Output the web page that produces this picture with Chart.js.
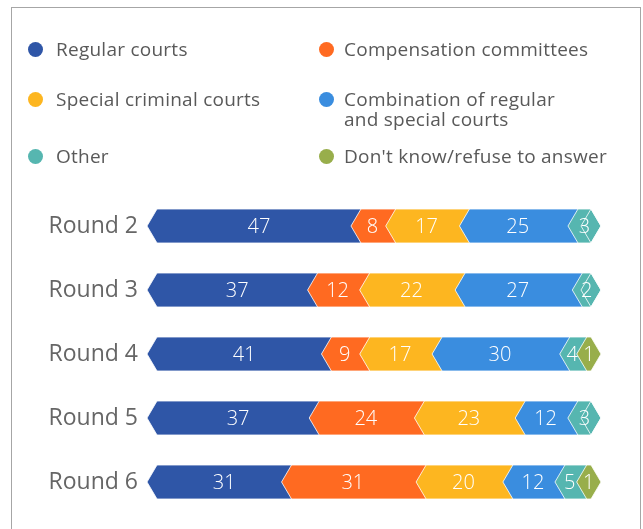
<!DOCTYPE html>
<html>
<head>
<meta charset="utf-8">
<script src="https://cdn.jsdelivr.net/npm/chart.js@4"></script>
<style>
  html, body { margin: 0; padding: 0; background: #fff; }
  body { width: 643px; height: 529px; position: relative; overflow: hidden; font-family: "Open Sans", sans-serif; }
  #frame { position: absolute; left: 11px; top: 7px; width: 628px; height: 600px; border: 1px solid #a6a6a6; }
  #wrap { position: absolute; left: 0; top: 0; width: 643px; height: 529px; }
  .item { position: absolute; font-size: 19px; letter-spacing: 0.25px; line-height: 20px; color: #595959; }
  .item .dot { position: absolute; top: 3px; width: 15px; height: 15px; border-radius: 50%; }
</style>
</head>
<body>
<div id="frame"></div>
<div id="wrap"><canvas id="myChart" width="643" height="529"></canvas></div>
<div id="legend"></div>
<script>
var rounds = ["Round 2", "Round 3", "Round 4", "Round 5", "Round 6"];
var regular = [47, 37, 41, 37, 31];
var compensation = [8, 12, 9, 24, 31];
var special = [17, 22, 17, 23, 20];
var combination = [25, 27, 30, 12, 12];
var other = [3, 2, 4, 3, 5];
var dontKnow = [0, 0, 1, 0, 1];

var seriesNames = ["Regular courts", "Compensation committees", "Special criminal courts",
  "Combination of regular\nand special courts", "Other", "Don't know/refuse to answer"];
var seriesColors = ["#2f56a7", "#ff6a21", "#fdb620", "#3a8ddf", "#56b6b0", "#98ae4b"];
var seriesValues = [regular, compensation, special, combination, other, dontKnow];

// row totals, each bar is shown as share of its row
var totals = rounds.map(function (r, i) {
  return seriesValues.reduce(function (s, arr) { return s + arr[i]; }, 0);
});

// legend (two columns): text left, top
var legendPos = [[56, 39], [344, 39], [56, 89], [344, 89], [56, 146], [344, 146]];
var dotOffset = [-28, -25];
var legendDiv = document.getElementById("legend");
for (var i = 0; i < seriesNames.length; i++) {
  var it = document.createElement("div");
  it.className = "item";
  it.style.left = legendPos[i][0] + "px";
  it.style.top = legendPos[i][1] + "px";
  it.innerHTML = '<span class="dot" style="left:' + dotOffset[i % 2] + 'px;background:' + seriesColors[i] + '"></span>' +
    seriesNames[i].replace("\n", "<br>");
  legendDiv.appendChild(it);
}

var TIP = 10;

var chevronPlugin = {
  id: "chevrons",
  beforeDatasetsDraw: function (chart) {
    var c = chart.ctx;
    c.save();
    chart.data.datasets.forEach(function (ds, di) {
      var meta = chart.getDatasetMeta(di);
      meta.data.forEach(function (el, j) {
        var p = el.getProps(["x", "y", "base", "height"], true);
        var top = p.y - p.height / 2, bot = p.y + p.height / 2;
        c.beginPath();
        c.moveTo(p.base, top);
        c.lineTo(p.x, top);
        c.lineTo(p.x + TIP, p.y);
        c.lineTo(p.x, bot);
        c.lineTo(p.base, bot);
        c.lineTo(p.base - TIP, p.y);
        c.closePath();
        if (ds.raw[j] > 0) {
          c.fillStyle = ds.backgroundColor;
          c.fill();
        }
        c.lineWidth = 1;
        c.strokeStyle = "rgba(255,255,255,0.8)";
        c.stroke();
      });
    });
    // value labels
    c.fillStyle = "#ffffff";
    c.font = "300 20px 'Open Sans'";
    c.textAlign = "center";
    c.textBaseline = "middle";
    chart.data.datasets.forEach(function (ds, di) {
      var meta = chart.getDatasetMeta(di);
      meta.data.forEach(function (el, j) {
        var v = ds.raw[j];
        if (!v) return;
        var lastIdx = 0;
        for (var k = 0; k < seriesValues.length; k++) if (seriesValues[k][j] > 0) lastIdx = k;
        var p = el.getProps(["x", "y", "base"], true);
        var shift = (di === 0 || di === lastIdx) ? 0 : -6;
        c.fillText(String(v), (p.base + p.x) / 2 + shift, p.y + 1);
      });
    });
    c.restore();
    return false;
  }
};

var ctx = document.getElementById("myChart").getContext("2d");
var myChart = new Chart(ctx, {
  type: "bar",
  data: {
    labels: rounds,
    datasets: seriesValues.map(function (arr, i) {
      return {
        label: seriesNames[i],
        raw: arr,
        data: arr.map(function (v, j) { return v / totals[j] * 100; }),
        backgroundColor: seriesColors[i],
        barThickness: 34
      };
    })
  },
  options: {
    indexAxis: "y",
    responsive: false,
    animation: false,
    layout: { padding: { top: 194, right: 52, bottom: 15, left: 0 } },
    plugins: { legend: { display: false }, tooltip: { enabled: false } },
    scales: {
      x: { stacked: true, min: 0, max: 100, display: false },
      y: {
        stacked: true,
        grid: { display: false, drawTicks: false },
        border: { display: false },
        ticks: { color: "#666666", font: { family: "Open Sans", size: 23 }, padding: 19 },
        afterFit: function (scale) {
          scale.width = 157;
          scale.paddingTop = 0;
          scale.paddingBottom = 0;
        }
      }
    }
  },
  plugins: [chevronPlugin]
});
</script>
</body>
</html>
